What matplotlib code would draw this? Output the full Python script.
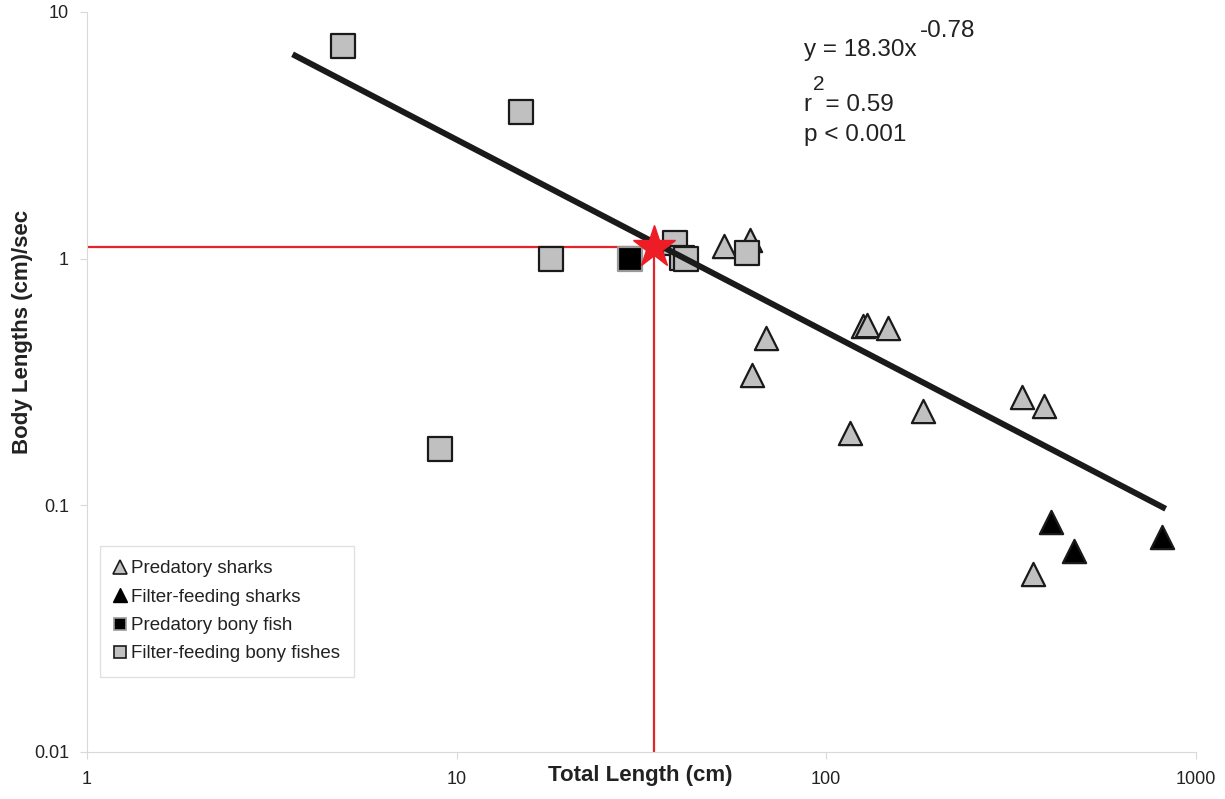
import numpy as np
import matplotlib.pyplot as plt
from matplotlib.lines import Line2D

# predatory sharks (grey triangles)
pred_shark_x = [52.8, 62.1, 68.7, 62.9, 125.6, 128.8, 146.8, 182.5, 115.8, 340, 390, 362]
pred_shark_y = [1.12, 1.19, 0.477, 0.337, 0.533, 0.54, 0.523, 0.241, 0.196, 0.275, 0.253, 0.0527]
# filter-feeding sharks (black triangles)
filt_shark_x = [405, 468, 809]
filt_shark_y = [0.0856, 0.0653, 0.0744]
# predatory bony fish (black square)
pred_bony_x = [29.4]
pred_bony_y = [1.0]
# filter-feeding bony fishes (grey squares)
filt_bony_x = [4.93, 14.9, 18.0, 9.01, 38.9, 40.7, 41.7, 61.0]
filt_bony_y = [7.28, 3.93, 1.0, 0.169, 1.157, 1.005, 1.0, 1.05]
# highlighted point
star_x, star_y = 34.2, 1.115
# power law fit
fit_a, fit_b = 18.30, -0.78
fit_range = [3.6, 830]

GREY = '#c0c0c0'
plt.rcParams['font.family'] = ['Liberation Sans', 'DejaVu Sans']

fig = plt.figure(figsize=(12.25, 7.99), dpi=100)
ax = fig.add_axes([0.071, 0.059, 0.905, 0.926])
ax.set_xscale('log'); ax.set_yscale('log')
ax.set_xlim(1, 1000); ax.set_ylim(0.01, 10)

# red guide lines to the star
ax.plot([1, star_x], [star_y, star_y], color='#e3242b', lw=1.6, zorder=2)
ax.plot([star_x, star_x], [0.01, star_y], color='#e3242b', lw=1.6, zorder=2)

ax.scatter(pred_shark_x, pred_shark_y, marker='^', s=280, c=GREY, edgecolors='#1a1a1a', linewidths=1.6, zorder=3)
ax.scatter(filt_shark_x, filt_shark_y, marker='^', s=280, c='black', edgecolors='#1a1a1a', linewidths=1.6, zorder=3)
ax.scatter(filt_bony_x, filt_bony_y, marker='s', s=300, c=GREY, edgecolors='#1a1a1a', linewidths=1.6, zorder=4)
ax.scatter(pred_bony_x, pred_bony_y, marker='s', s=300, c='black', edgecolors='#999999', linewidths=1.6, zorder=4)

xf = np.array(fit_range)
ax.plot(xf, fit_a * xf ** fit_b, color='#1a1a1a', lw=4.3, solid_capstyle='butt', zorder=5)

ax.plot([star_x], [star_y], marker='*', ms=32, color='#ee1c25', mec='#ee1c25', zorder=6)

for s in ['top', 'right']:
    ax.spines[s].set_visible(False)
for s in ['left', 'bottom']:
    ax.spines[s].set_color('#d9d9d9')
ax.tick_params(which='both', color='#d9d9d9', length=5, labelsize=13, labelcolor='#222222')
ax.minorticks_off()
ax.set_xticks([1, 10, 100, 1000]); ax.set_xticklabels(['1', '10', '100', '1000'])
ax.set_yticks([0.01, 0.1, 1, 10]); ax.set_yticklabels(['0.01', '0.1', '1', '10'])
ax.tick_params(axis='x', pad=9)
ax.tick_params(axis='y', pad=8)

ax.set_xlabel('Total Length (cm)', fontsize=16, fontweight='bold', color='#222222')
ax.xaxis.set_label_coords(0.499, -0.032)
ax.xaxis.label.set_va('center')
ax.set_ylabel('Body Lengths (cm)/sec', fontsize=16, fontweight='bold', color='#222222')
ax.yaxis.set_label_coords(-0.058, 0.568)
ax.yaxis.label.set_va('center')

txt = dict(transform=ax.transAxes, fontsize=17.5, color='#222222')
ax.text(0.647, 0.949, 'y = 18.30x', ha='left', va='center', **txt)
ax.text(0.751, 0.974, '-0.78', ha='left', va='center', **txt)
ax.text(0.655, 0.902, '2', ha='left', va='center', fontsize=15, transform=ax.transAxes, color='#222222')
ax.text(0.647, 0.874, 'r  = 0.59', ha='left', va='center', **txt)
ax.text(0.647, 0.834, 'p < 0.001', ha='left', va='center', **txt)

handles = [
    Line2D([], [], ls='', marker='^', ms=10, mfc=GREY, mec='#1a1a1a', mew=1.2),
    Line2D([], [], ls='', marker='^', ms=10, mfc='black', mec='black'),
    Line2D([], [], ls='', marker='s', ms=8, mfc='black', mec='#999999', mew=1.2),
    Line2D([], [], ls='', marker='s', ms=8, mfc=GREY, mec='#1a1a1a', mew=1.2),
]
labels = ['Predatory sharks', 'Filter-feeding sharks', 'Predatory bony fish', 'Filter-feeding bony fishes']
leg = ax.legend(handles, labels, loc='upper left', bbox_to_anchor=(0.0117, 0.278),
                borderaxespad=0, frameon=True, fancybox=False, edgecolor='#d9d9d9',
                handlelength=0.6, handletextpad=0.3, labelspacing=0.6, borderpad=0.75,
                prop={'size': 13.5})
leg.get_frame().set_linewidth(1.0)
for t in leg.get_texts():
    t.set_color('#222222')

fig.savefig('out.png', dpi=100, facecolor='white')
